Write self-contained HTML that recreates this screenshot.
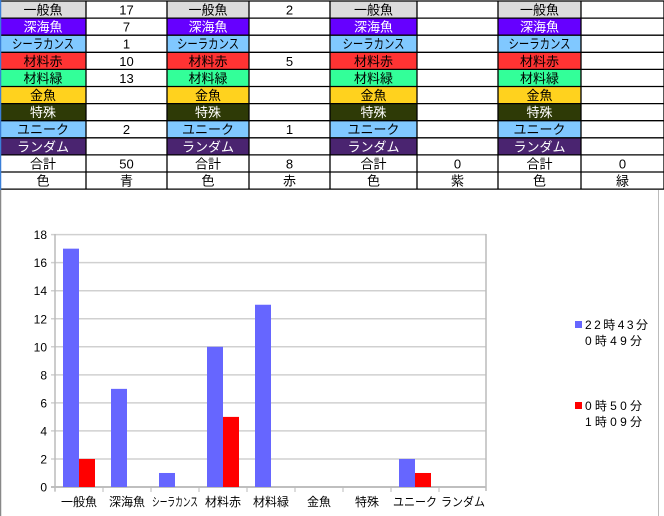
<!DOCTYPE html>
<html><head><meta charset="utf-8"><style>
body{margin:0;background:#fff;width:664px;height:516px;overflow:hidden}
svg{display:block;font-family:"Liberation Sans","Noto Sans CJK JP",sans-serif}
</style></head><body>
<svg width="664" height="516" xmlns="http://www.w3.org/2000/svg">
<g id="tbl" font-size="13" text-anchor="middle"></g>
<line x1="0.5" y1="0" x2="0.5" y2="190" stroke="#3a7fd8" stroke-width="1.5"/>
<line x1="0.5" y1="190" x2="0.5" y2="516" stroke="#888" stroke-width="1.5"/>
<line x1="658.5" y1="190" x2="658.5" y2="516" stroke="#bbb"/>
<g id="chart" font-size="12"></g>
<script>
var NS="http://www.w3.org/2000/svg";
function el(p,t,a,txt){var e=document.createElementNS(NS,t);for(var k in a)e.setAttribute(k,a[k]);if(txt!=null)e.textContent=txt;p.appendChild(e);return e;}
var T=document.getElementById('tbl');
var labels=[["一般魚","#dcdcdc","#000"],["深海魚","#6600ff","#fff"],["シーラカンス","#80c8ff","#000"],["材料赤","#ff3333","#000"],["材料緑","#33ff99","#000"],["金魚","#ffd21e","#000"],["特殊","#2e3a06","#fff"],["ユニーク","#80c8ff","#000"],["ランダム","#4a2470","#fff"],["合計","#fff","#000"],["色","#fff","#000"]];
var cols=[[0,86,167],[167,249,330],[330,417,498],[498,581,664]];
var vals=[["17","7","1","10","13","","","2","","50","青"],["2","","","5","","","","1","","8","赤"],["","","","","","","","","","0","紫"],["","","","","","","","","","0","緑"]];
for(var c=0;c<4;c++){for(var r=0;r<11;r++){var y=1+r*17.1,h=17.1;var L=labels[r];
el(T,'rect',{x:cols[c][0],y:y,width:cols[c][1]-cols[c][0],height:h,fill:L[1]});
var t=el(T,'text',{x:(cols[c][0]+cols[c][1])/2,y:y+13.5,fill:L[2]},L[0]);
if(r==2){t.setAttribute('textLength','62');t.setAttribute('lengthAdjust','spacingAndGlyphs');}
el(T,'text',{x:(cols[c][1]+cols[c][2])/2,y:y+13.5,fill:"#000"},vals[c][r]);}}
for(var r=0;r<=11;r++){var y=1+r*17.1;el(T,'line',{x1:0,x2:664,y1:y,y2:y,stroke:"#000","stroke-width":1.3});}
for(var c=0;c<4;c++){el(T,'line',{x1:cols[c][1],x2:cols[c][1],y1:1,y2:189,stroke:"#000","stroke-width":1.3});el(T,'line',{x1:cols[c][2],x2:cols[c][2],y1:1,y2:189,stroke:"#000","stroke-width":1.3});}
var C=document.getElementById('chart');
var z=487,u=14.02,x0=55,w=48;
for(var v=0;v<=18;v+=2){var y=z-v*u;el(C,'line',{x1:x0-4,x2:486,y1:y,y2:y,stroke:v==0?"#aaa":"#d0d0d0","stroke-width":1.5});el(C,'text',{x:x0-8,y:y+4.5,"text-anchor":"end",fill:"#000"},v);}
el(C,'line',{x1:x0,x2:x0,y1:234,y2:491,stroke:"#bbb","stroke-width":1.5});
el(C,'line',{x1:486,x2:486,y1:234,y2:491,stroke:"#bbb","stroke-width":1.5});
var cats=["一般魚","深海魚","シーラカンス","材料赤","材料緑","金魚","特殊","ユニーク","ランダム"];
var b=[17,7,1,10,13,0,0,2,0],rd=[2,0,0,5,0,0,0,1,0];
for(var i=0;i<9;i++){var x=x0+w*i;
el(C,'line',{x1:x,x2:x,y1:487,y2:492,stroke:"#bbb"});
if(b[i])el(C,'rect',{x:x+8,y:z-b[i]*u,width:16,height:b[i]*u,fill:"#6666ff"});
if(rd[i])el(C,'rect',{x:x+24,y:z-rd[i]*u,width:16,height:rd[i]*u,fill:"#ff0000"});
var t=el(C,'text',{x:x+24,y:506,"text-anchor":"middle",fill:"#000"},cats[i]);
if(i==2||i==7||i==8){t.setAttribute('textLength',i==2?'46':'44');t.setAttribute('lengthAdjust','spacingAndGlyphs');}}
function lt(x,y,s,len){var t=el(C,'text',{x:x,y:y,fill:"#000",textLength:len,lengthAdjust:"spacing"},s);}
el(C,'rect',{x:575,y:321,width:7,height:7,fill:"#6666ff"});
lt(585,329,"22時43分",63);
lt(585,345,"0時49分",57);
el(C,'rect',{x:575,y:402,width:7,height:7,fill:"#ff0000"});
lt(585,410,"0時50分",57);
lt(585,426,"1時09分",57);
</script>
</svg>
</body></html>
